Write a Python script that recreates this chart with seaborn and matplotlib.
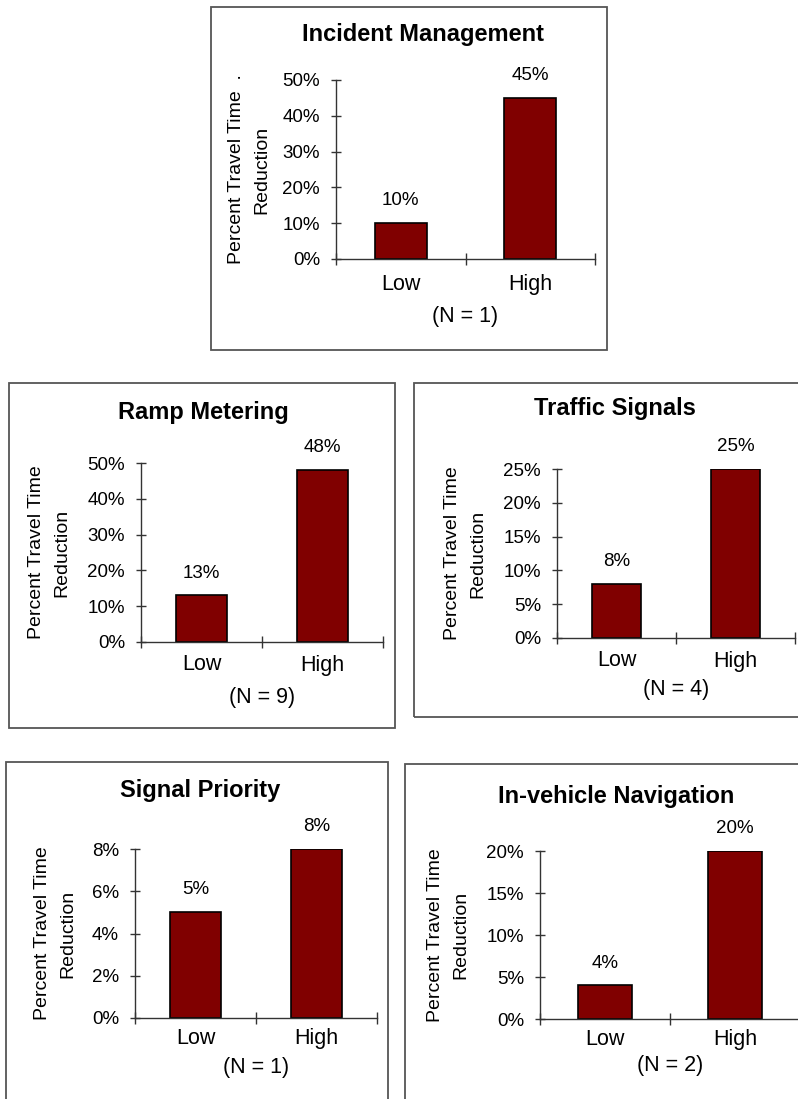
import matplotlib
matplotlib.use("Agg")
import matplotlib.pyplot as plt
import seaborn as sns
import pandas as pd
from matplotlib.patches import Rectangle
from matplotlib.ticker import FuncFormatter, MultipleLocator

# data
levels = ["Low", "High"]
titles = ["Incident Management", "Ramp Metering", "Traffic Signals",
          "Signal Priority", "In-vehicle Navigation"]
incident_mgmt = [10, 45]
ramp_metering = [13, 48]
traffic_signals = [8, 25]
signal_priority = [5, 8]
invehicle_nav = [4, 20]
n_counts = [1, 9, 4, 1, 2]
y_max = [50, 50, 25, 8, 20]
y_step = [10, 10, 5, 2, 5]
ylabels = ["Percent Travel Time  .\nReduction"] + ["Percent Travel Time\nReduction"] * 4

series = [incident_mgmt, ramp_metering, traffic_signals, signal_priority, invehicle_nav]

sns.set_style("white")
plt.rcParams["font.family"] = ["Liberation Sans", "DejaVu Sans"]
plt.rcParams["text.color"] = "black"
plt.rcParams["xtick.labelcolor"] = "black"
plt.rcParams["ytick.labelcolor"] = "black"
plt.rcParams["axes.labelcolor"] = "black"

W, H = 798, 1099
fig = plt.figure(figsize=(W / 100, H / 100), dpi=100)

# layout in pixels: axes (left, top, right, bottom) and frame box
axes_px = [(336, 80, 595, 259), (141, 463, 383, 642), (557, 469, 795, 638),
           (135, 849, 377, 1018), (540, 851, 800, 1019)]
box_px = [(211, 7, 607, 350), (9, 383, 395, 728), (414, 383, 806, 717),
          (6, 762, 388, 1106), (405, 764, 806, 1106)]
title_xy = [(423, 35), (203, 413), (615, 409), (200, 791), (616, 797)]
ylab_off = [87, 92, 92, 80, 92]
xlab_off = [58, 55, 52, 49, 46]
xtick_pad = [11, 9, 9, 7, 7]
bar_w = [0.40, 0.42, 0.41, 0.42, 0.42]

dark = "#333333"

for i in range(5):
    bl, bt, br, bb = box_px[i]
    fig.patches.append(Rectangle((bl / W, 1 - bb / H), (br - bl) / W, (bb - bt) / H,
                                 transform=fig.transFigure, fill=False,
                                 edgecolor="#555555", linewidth=1.3))

    l, t, r, b = axes_px[i]
    ax = fig.add_axes([l / W, 1 - b / H, (r - l) / W, (b - t) / H])
    df = pd.DataFrame({"level": levels, "value": series[i]})
    sns.barplot(data=df, x="level", y="value", color="#800000", saturation=1,
                edgecolor="black", linewidth=1.2, width=bar_w[i], ax=ax)

    ax.set_xlim(-0.5, 1.5)
    ax.set_ylim(0, y_max[i])
    ax.yaxis.set_major_locator(MultipleLocator(y_step[i]))
    ax.yaxis.set_major_formatter(FuncFormatter(lambda v, p: f"{v:.0f}%"))
    for s in ["top", "right"]:
        ax.spines[s].set_visible(False)
    for s in ["left", "bottom"]:
        ax.spines[s].set_color(dark)
        ax.spines[s].set_linewidth(1.0)

    ax.tick_params(axis="y", direction="inout", length=7, width=1.0, color=dark,
                   labelsize=13.5, pad=8, left=True)
    ax.set_xticks([0, 1])
    ax.set_xticklabels(levels)
    ax.set_xticks([-0.5, 0.5, 1.5], minor=True)
    ax.tick_params(axis="x", which="major", length=0, labelsize=15.5, pad=xtick_pad[i])
    ax.tick_params(axis="x", which="minor", direction="inout", length=8,
                   width=1.0, color=dark, bottom=True)

    ax.bar_label(ax.containers[0], labels=[f"{v}%" for v in series[i]],
                 padding=10, fontsize=13.5, color="black")

    ax.set_ylabel(ylabels[i], fontsize=14, linespacing=1.6)
    ax.yaxis.label.set_va("center")
    ax.yaxis.set_label_coords(-ylab_off[i] / (r - l), 0.5)

    ax.set_xlabel(f"(N = {n_counts[i]})", fontsize=15.5)
    ax.xaxis.label.set_va("center")
    ax.xaxis.set_label_coords(0.5, -xlab_off[i] / (b - t))

    tx, ty = title_xy[i]
    fig.text(tx / W, 1 - ty / H, titles[i], ha="center", va="center",
             fontsize=17, fontweight="bold", color="black")

fig.savefig("out.png", dpi=100)
